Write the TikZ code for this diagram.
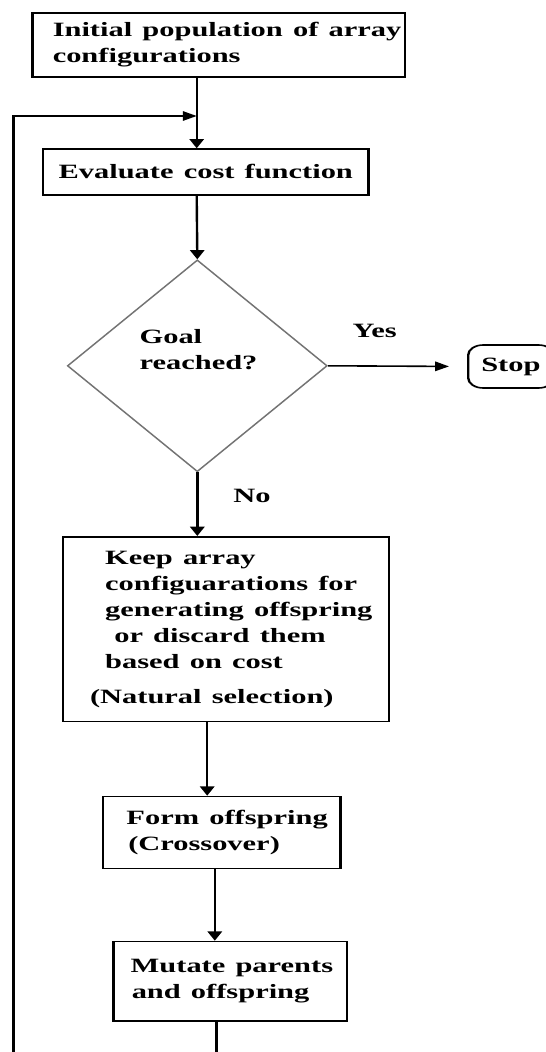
\documentclass[tikz,border=0pt]{standalone}
\usepackage{fontspec}
\setmainfont{Liberation Serif}
\usetikzlibrary{shapes.geometric,arrows.meta}
\newcommand{\offln}[2]{\hspace*{#1pt}\mbox{#2}}
\begin{document}
\begin{tikzpicture}
\useasboundingbox (0,0) rectangle (546pt,-1052pt);
\begin{scope}[x=0.666667pt,y=-1pt,transform canvas={xscale=1.5},
  every node/.style={font=\fontsize{20.3}{26}\selectfont\bfseries},
  box/.style={draw, line width=1.6pt, inner sep=0pt, anchor=north west, align=left},
  con/.style={line width=1.6pt},
  arr/.style={con, -{Triangle[length=9.3pt,width=9.5pt]}},
  plain/.style={inner sep=0pt},
  decision/.style={draw=black!55, shape=diamond, line width=1.2pt, inner sep=0pt}]
\clip (0,0) rectangle (546,1052);

\node[box, text width=248.4pt, minimum height=63.7pt] (init) at (31.3,12.3)
  {\offln{13.5}{Initial population of array}\\\offln{13.5}{configurations}};
\node[box, align=center, text width=217pt, minimum height=45.7pt] (eval) at (41.8,148.3)
  {Evaluate cost function};
\node[decision, minimum width=173.3pt, minimum height=211.7pt] (goal) at (197.3,365.8) {};
\node[plain, anchor=north west, align=left] (goaltxt) at (139.3,329.4) {Goal\\reached?};
\node[plain, anchor=base west] (yes) at (352.4,337.3) {Yes};
\node[plain, anchor=base west] (no) at (233,502) {No};
\node[draw, line width=1.6pt, rounded corners=10pt, anchor=west, minimum height=43pt,
  inner xsep=8.7pt, inner ysep=0pt] (stop) at (467,366.5) {Stop};
\node[box, text width=217pt, minimum height=184.7pt] (keep) at (62,536)
  {\offln{28}{Keep array}\\
   \offln{28}{configuarations for}\\
   \offln{28}{generating offspring}\\
   \offln{34.1}{or discard them}\\
   \offln{28}{based on cost}\\[9.2pt]
   \offln{17.9}{(Natural selection)}};
\node[box, text width=158.5pt, minimum height=72pt] (form) at (101.7,795.7)
  {\offln{15.7}{Form offspring}\\\offln{16.9}{(Crossover)}};
\node[box, text width=155.7pt, minimum height=79.3pt] (mut) at (112.1,940.7)
  {\offln{11.6}{Mutate parents}\\\offln{12.3}{and offspring}};

\coordinate (xa) at (196.7,0);
\coordinate (xc) at (207.2,0);
\coordinate (xd) at (214.8,0);
\coordinate (xe) at (216.6,0);
\coordinate (join) at (196.7,116);
\coordinate (fbstart) at (13.6,1060);
\coordinate (fbcorner) at (13.6,116);
\coordinate (endline) at (216.6,1060);

\draw[arr] (init.south -| xa) -- (eval.north -| xa);
\draw[arr] (fbstart) -- (fbcorner) -- (join);
\draw[arr] (eval.south -| xa) -- (goal.north);
\draw[arr, shorten >=12pt] (goal.east) -- (stop.west);
\draw[arr] (goal.south) -- (goal.south |- keep.north);
\draw[arr] (keep.south -| xc) -- (form.north -| xc);
\draw[arr] (form.south -| xd) -- (mut.north -| xd);
\draw[con] (mut.south -| xe) -- (endline);
\end{scope}
\end{tikzpicture}
\end{document}
